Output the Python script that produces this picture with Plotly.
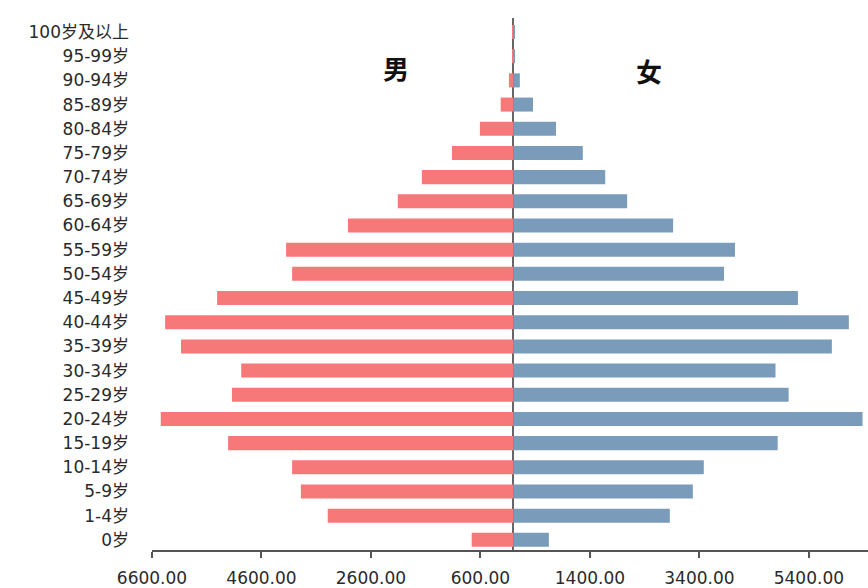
import plotly.graph_objects as go

age_groups = ["0岁", "1-4岁", "5-9岁", "10-14岁", "15-19岁", "20-24岁", "25-29岁",
              "30-34岁", "35-39岁", "40-44岁", "45-49岁", "50-54岁", "55-59岁",
              "60-64岁", "65-69岁", "70-74岁", "75-79岁", "80-84岁", "85-89岁",
              "90-94岁", "95-99岁", "100岁及以上"]
male = [760, 3390, 3880, 4040, 5210, 6440, 5140, 4970, 6070, 6360, 5410, 4040,
        4150, 3020, 2110, 1670, 1120, 610, 230, 80, 12, 8]
female = [650, 2860, 3280, 3480, 4830, 6380, 5030, 4790, 5820, 6130, 5200, 3850,
          4050, 2920, 2080, 1680, 1270, 780, 360, 120, 30, 20]
tick_vals = [-6600, -4600, -2600, -600, 1400, 3400, 5400]
tick_text = ["6600.00", "4600.00", "2600.00", "600.00", "1400.00", "3400.00", "5400.00"]

fig = go.Figure()
fig.add_trace(go.Bar(y=age_groups, x=[-v for v in male], orientation="h", name="男",
                     marker=dict(color="#f67878", line=dict(width=0)),
                     customdata=male, hovertemplate="%{y} 男: %{customdata}<extra></extra>"))
fig.add_trace(go.Bar(y=age_groups, x=female, orientation="h", name="女",
                     marker=dict(color="#7b9bbb", line=dict(width=0)),
                     hovertemplate="%{y} 女: %{x}<extra></extra>"))

fig.update_layout(
    width=868, height=588,
    margin=dict(l=152, r=0, t=18, b=38),
    paper_bgcolor="white", plot_bgcolor="white",
    barmode="overlay", bargap=0.42,
    showlegend=False,
    font=dict(family="'DejaVu Sans', 'Noto Sans CJK SC'", color="#333333"),
    xaxis=dict(range=[-6600, 6480], tickvals=tick_vals, ticktext=tick_text,
               showgrid=False, showline=True, linecolor="#555555", linewidth=1.5,
               ticks="outside", ticklen=6, tickwidth=1.5, tickcolor="#555555",
               zeroline=True, zerolinecolor="#666666", zerolinewidth=1.5,
               layer="above traces", ticklabelstandoff=6,
               tickfont=dict(size=17, color="#2a2a2a")),
    yaxis=dict(type="category", categoryorder="array", categoryarray=age_groups,
               range=[-0.42, 21.58], showgrid=False, showline=False, ticks="",
               zeroline=False, ticklabelstandoff=22,
               tickfont=dict(size=17, color="#2a2a2a")),
    annotations=[
        dict(text="<b>男</b>", x=0.341, y=0.907, xref="paper", yref="paper",
             xanchor="center", yanchor="middle",
             showarrow=False, font=dict(size=26, color="#111111",
                                        family="'Noto Sans CJK SC'")),
        dict(text="<b>女</b>", x=0.694, y=0.902, xref="paper", yref="paper",
             xanchor="center", yanchor="middle",
             showarrow=False, font=dict(size=26, color="#111111",
                                        family="'Noto Sans CJK SC'")),
    ],
)

fig.write_html("out.html")
